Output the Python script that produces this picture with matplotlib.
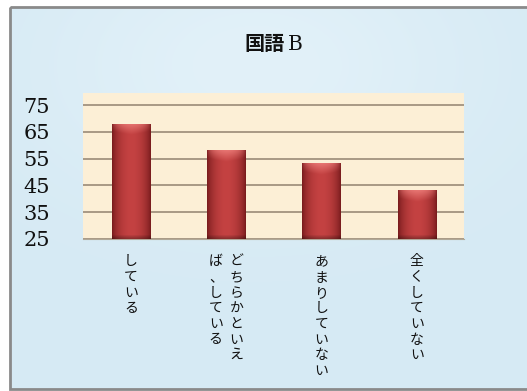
import numpy as np
import matplotlib
matplotlib.use("Agg")
import matplotlib.pyplot as plt
from matplotlib.patches import Rectangle
from matplotlib.transforms import blended_transform_factory

# Survey categories and mean scores
categories = ["している", "どちらかといえば、している", "あまりしていない", "全くしていない"]
label_wrap = [None, 7, None, None]   # column break for long vertical labels
scores = [68.0, 58.1, 53.2, 43.2]
yticks = [25, 35, 45, 55, 65, 75]
title_kanji = "国語"
title_suffix = "B"

W, H, DPI = 527, 391, 100
fig = plt.figure(figsize=(W / DPI, H / DPI), dpi=DPI)
fig.patch.set_facecolor("white")

# Chart frame with light blue fill
frame_ax = fig.add_axes([0, 0, 1, 1])
frame_ax.axis("off")
yy, xx = np.mgrid[0:H, 0:W]
bg = np.zeros((H, W, 3))
base = np.array([214, 234, 244]) / 255
light = np.array([226, 241, 249]) / 255
wgt = np.exp(-(((xx - 250) / 220.0) ** 2 + ((yy - 60) / 140.0) ** 2))
bg[:] = base * (1 - wgt[..., None]) + light * wgt[..., None]
frame_ax.imshow(bg, extent=[10, W + 2, 389, 7], aspect="auto", zorder=0)
frame_ax.add_patch(Rectangle((10, 7), W, 382, fill=False, edgecolor="#8a8a8a",
                             linewidth=2.0, zorder=1))
frame_ax.set_xlim(0, W)
frame_ax.set_ylim(H, 0)

# Plot area
ax = fig.add_axes([83.3 / W, 1 - 239 / H, 381 / W, 145.7 / H])
ax.set_facecolor("#fcefd6")
ymin, ymax = 25, 79.4
x = np.arange(len(categories))
bars = ax.bar(x, [s - ymin for s in scores], bottom=ymin, width=0.4,
              color="#b83c3c", edgecolor="none", zorder=3)

# Shaded fill for each bar
dark = np.array([110, 22, 24]) / 255
mid = np.array([196, 66, 66]) / 255
pink = np.array([238, 128, 124]) / 255
px_per_unit = 145.7 / (ymax - ymin)
for b in bars:
    bx, bw = b.get_x(), b.get_width()
    top = b.get_y() + b.get_height()
    nrow = max(int((top - ymin) * px_per_unit), 2)
    ncol = 40
    u = (np.arange(ncol) + 0.5) / ncol
    prof = np.sin(np.pi * u) ** 0.6
    img = dark * (1 - prof[None, :, None]) + mid * prof[None, :, None]
    img = np.repeat(img, nrow, axis=0)
    rows = np.arange(nrow)[:, None]
    # pink cap near the top
    arch = 6 + 5 * (1 - np.abs(u - 0.5) * 2) ** 0.5
    cap = np.clip(1 - rows / arch[None, :], 0, 1) * prof[None, :]
    img = img * (1 - 0.8 * cap[..., None]) + pink * 0.8 * cap[..., None]
    # darker base
    shade = np.clip((rows - (nrow - 5)) / 5, 0, 1) * 0.35
    img = img * (1 - shade[..., None])
    im = ax.imshow(img, extent=[bx, bx + bw, ymin, top], aspect="auto",
                   zorder=4, interpolation="bilinear")
    im.set_clip_path(b)

ax.set_xlim(-0.5, len(categories) - 0.5)
ax.set_ylim(ymin, ymax)
ax.set_yticks(yticks)
ax.set_yticklabels([str(t) for t in yticks])
for lbl in ax.get_yticklabels():
    lbl.set_fontfamily("DejaVu Serif")
    lbl.set_fontsize(15)
    lbl.set_color("#111111")
ax.tick_params(axis="y", length=0, pad=24)
ax.set_xticks([])
ax.grid(axis="y", color="#9a8b78", linewidth=1.2, zorder=1)
for s in ["top", "left", "right"]:
    ax.spines[s].set_visible(False)
ax.spines["bottom"].set_color("#b0a898")

# Vertical category labels, columns laid out right to left
trans = blended_transform_factory(ax.transData, ax.transAxes)
jp = ["Noto Sans CJK JP", "DejaVu Sans"]
for i, (label, wrap) in enumerate(zip(categories, label_wrap)):
    step = wrap or len(label)
    cols = [label[k:k + step] for k in range(0, len(label), step)]
    n = len(cols)
    for j, col in enumerate(cols):
        dx = (n - 1) * 7.5 - j * 15
        ax.annotate("\n".join(col), xy=(i, 0), xycoords=trans,
                    xytext=(dx, -11), textcoords="offset points",
                    ha="center", va="top", fontsize=10, family=jp,
                    linespacing=1.15, color="#111111")

# Title: kanji in gothic, letter in serif
fig.text(285 / W, 1 - 44 / H, title_kanji, ha="right", va="center",
         fontsize=14.5, family=jp, weight="bold", color="#111111")
fig.text(288 / W, 1 - 44 / H, title_suffix, ha="left", va="center",
         fontsize=14.5, family="DejaVu Serif", color="#111111")

fig.savefig("out.png", dpi=DPI)
